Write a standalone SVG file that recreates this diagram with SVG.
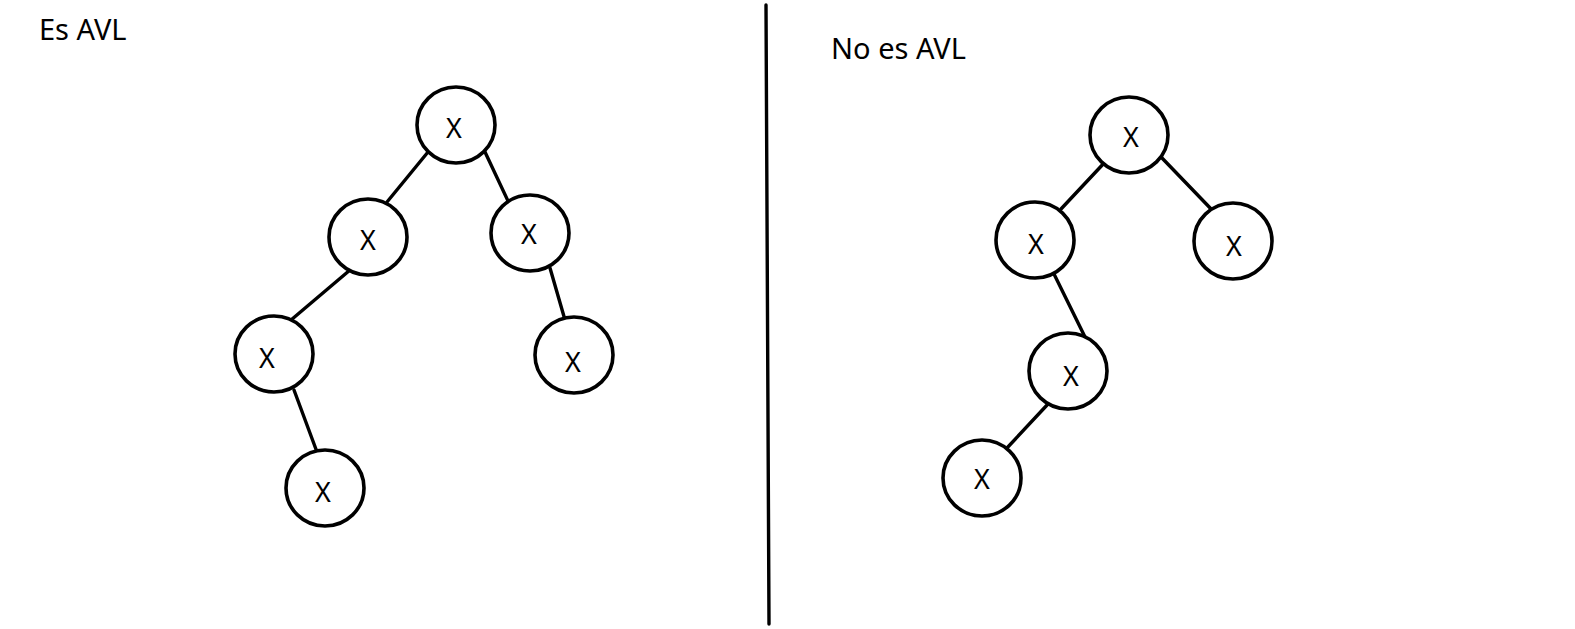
<svg xmlns="http://www.w3.org/2000/svg" width="1575" height="629" viewBox="0 0 1575 629">
<style>
.n{fill:#fff;stroke:#000;stroke-width:3.6}
.e{stroke:#000;stroke-width:3.4;fill:none;stroke-linecap:round}
.t{font-family:"Noto Sans","Open Sans",sans-serif;font-size:27px;fill:#000;text-anchor:middle}
.h{font-family:"Noto Sans","Open Sans",sans-serif;font-size:29px;fill:#000}
</style>
<rect width="1575" height="629" fill="#fff"/>
<text class="h" x="39" y="40">Es AVL</text>
<text class="h" x="831" y="59">No es AVL</text>
<g id="connectors">
<line class="e" x1="766" y1="5" x2="769" y2="624"/>
<line class="e" x1="428" y1="152" x2="387" y2="202"/>
<line class="e" x1="485" y1="152" x2="509" y2="203"/>
<line class="e" x1="350" y1="270" x2="291" y2="320"/>
<line class="e" x1="550" y1="268" x2="565" y2="320"/>
<line class="e" x1="294" y1="390" x2="317" y2="452"/>
<line class="e" x1="1106" y1="161" x2="1061" y2="209"/>
<line class="e" x1="1162" y1="158" x2="1214" y2="212"/>
<line class="e" x1="1054" y1="274" x2="1086" y2="339"/>
<line class="e" x1="1048" y1="404" x2="1006" y2="449"/>
</g>
<g id="a1"><ellipse class="n" cx="456" cy="125" rx="39" ry="38"/><text class="t" x="454" y="138">X</text></g>
<g id="a2"><ellipse class="n" cx="368" cy="237" rx="39" ry="38"/><text class="t" x="368" y="250">X</text></g>
<g id="a3"><ellipse class="n" cx="530" cy="233" rx="39" ry="38"/><text class="t" x="529" y="244">X</text></g>
<g id="a4"><ellipse class="n" cx="274" cy="354" rx="39" ry="38"/><text class="t" x="267" y="368">X</text></g>
<g id="a5"><ellipse class="n" cx="574" cy="355" rx="39" ry="38"/><text class="t" x="573" y="372">X</text></g>
<g id="a6"><ellipse class="n" cx="325" cy="488" rx="39" ry="38"/><text class="t" x="323" y="502">X</text></g>
<g id="b1"><ellipse class="n" cx="1129" cy="135" rx="39" ry="38"/><text class="t" x="1131" y="147">X</text></g>
<g id="b2"><ellipse class="n" cx="1035" cy="240" rx="39" ry="38"/><text class="t" x="1036" y="254">X</text></g>
<g id="b3"><ellipse class="n" cx="1233" cy="241" rx="39" ry="38"/><text class="t" x="1234" y="256">X</text></g>
<g id="b4"><ellipse class="n" cx="1068" cy="371" rx="39" ry="38"/><text class="t" x="1071" y="386">X</text></g>
<g id="b5"><ellipse class="n" cx="982" cy="478" rx="39" ry="38"/><text class="t" x="982" y="489">X</text></g>
</svg>
